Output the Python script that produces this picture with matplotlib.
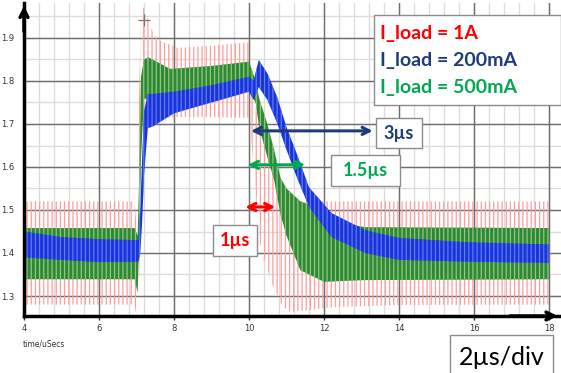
import matplotlib.pyplot as plt
from matplotlib.patches import Rectangle

# envelopes of the three ripple waveforms (time in us, volts)
t_red = [4.0, 6.95, 7.0, 7.05, 7.12, 7.2, 7.45, 7.6, 8.1, 9.0, 10.0, 10.1, 10.3, 10.6, 10.9, 11.1, 11.6, 12.2, 14.0, 18.0]
red_hi = [1.52, 1.52, 1.46, 1.69, 1.97, 1.97, 1.91, 1.895, 1.877, 1.882, 1.89, 1.76, 1.70, 1.60, 1.53, 1.52, 1.52, 1.52, 1.52, 1.52]
red_lo = [1.28, 1.28, 1.253, 1.253, 1.55, 1.70, 1.71, 1.714, 1.716, 1.716, 1.714, 1.62, 1.42, 1.33, 1.275, 1.263, 1.267, 1.274, 1.279, 1.28]

t_green = [4.0, 6.95, 7.03, 7.08, 7.12, 7.2, 7.32, 7.9, 9.0, 10.0, 10.18, 10.27, 10.49, 10.67, 10.84, 11.0, 11.37, 12.0, 12.5, 13.1, 18.0]
green_hi = [1.458, 1.458, 1.44, 1.60, 1.81, 1.85, 1.855, 1.828, 1.835, 1.845, 1.80, 1.76, 1.70, 1.64, 1.575, 1.55, 1.52, 1.50, 1.47, 1.46, 1.458]
green_lo = [1.339, 1.339, 1.307, 1.45, 1.62, 1.76, 1.755, 1.755, 1.765, 1.78, 1.748, 1.693, 1.623, 1.57, 1.49, 1.44, 1.36, 1.333, 1.335, 1.337, 1.339]

t_blue = [4.0, 5.0, 6.0, 7.05, 7.1, 7.15, 7.2, 7.3, 7.45, 8.0, 9.0, 10.0, 10.12, 10.26, 10.49, 10.75, 11.0, 11.27, 11.6, 12.2, 13.1, 14.0, 15.8, 18.0]
blue_hi = [1.45, 1.437, 1.432, 1.43, 1.50, 1.62, 1.73, 1.77, 1.77, 1.775, 1.79, 1.81, 1.80, 1.849, 1.818, 1.763, 1.693, 1.632, 1.553, 1.493, 1.453, 1.435, 1.425, 1.42]
blue_lo = [1.39, 1.384, 1.379, 1.38, 1.40, 1.47, 1.58, 1.69, 1.695, 1.725, 1.75, 1.775, 1.756, 1.786, 1.756, 1.702, 1.64, 1.577, 1.507, 1.437, 1.40, 1.384, 1.38, 1.377]

x_ticks = [4, 6, 8, 10, 12, 14, 16, 18]
y_ticks = [1.3, 1.4, 1.5, 1.6, 1.7, 1.8, 1.9]
legend_lines = ["I_load = 1A", "I_load = 200mA", "I_load = 500mA"]
legend_colors = ["#ff0000", "#1f3c7a", "#00a94f"]

plt.rcParams["hatch.linewidth"] = 0.9

fig = plt.figure(figsize=(5.61, 3.73), dpi=100)
W, H = 561, 373
ax = fig.add_axes([24 / W, (H - 316) / H, (W - 24) / W, (316 - 3) / H])
ax.set_xlim(4, 4 + (W - 24) / 37.5)
ax.set_ylim(1.9 - (316 - 38) / 430, 1.9 + 35 / 430)

# grid
for x in [4 + 0.4 * i for i in range(37)]:
    ax.axvline(x, color="#dcdcdc", lw=1, zorder=0)
for y in [1.25 + 0.05 * i for i in range(16)]:
    ax.axhline(y, color="#dcdcdc", lw=1, zorder=0)
for x in x_ticks:
    ax.axvline(x, color="#6e6e6e", lw=1, zorder=0.5)
for y in y_ticks:
    ax.axhline(y, color="#6e6e6e", lw=1, zorder=0.5)


def band(t, lo, hi, face, stripe, z):
    # ripple drawn as vertical hatch inside the envelope
    return ax.fill_between(t, lo, hi, facecolor=face, edgecolor=stripe,
                           hatch="||||", linewidth=0, zorder=z)


band(t_red, red_lo, red_hi, "none", "#ff9c9c", 1)
band(t_green, green_lo, green_hi, "#2f8a2f", "#8fc68f", 2)
band(t_blue, blue_lo, blue_hi, "#1a33dc", "#5f7cf2", 3)

# cursor cross
ax.plot([7.19], [1.942], marker="+", ms=9, mew=0.9, color="#777777", zorder=4)

# axes styling
for s in ["top", "right"]:
    ax.spines[s].set_visible(False)
for s in ["left", "bottom"]:
    ax.spines[s].set_linewidth(2.5)
    ax.spines[s].set_zorder(6)
ax.set_xticks(x_ticks)
ax.set_yticks(y_ticks)
ax.set_xticklabels([str(v) for v in x_ticks])
ax.set_yticklabels([f"{v:.1f}" for v in y_ticks])
ax.tick_params(axis="x", length=3, width=1, labelsize=6, colors="#333333", pad=3)
ax.tick_params(axis="y", length=0, labelsize=6, colors="#333333", pad=7)
ax.annotate("", xy=(0, 1.0), xytext=(0, 0.9), xycoords="axes fraction",
            arrowprops=dict(arrowstyle="->", lw=2.5, color="black", mutation_scale=14))
ax.annotate("", xy=(0.999, 0), xytext=(0.9, 0), xycoords="axes fraction",
            arrowprops=dict(arrowstyle="->", lw=2.5, color="black", mutation_scale=14))
fig.text(23 / W, 1 - 344 / H, "time/uSecs", fontsize=5.5, color="#333333", va="center")

# legend box
font = "Lato"
fig.patches.append(Rectangle((374 / W, 1 - 105 / H), (W - 374) / W, 90 / H,
                             transform=fig.transFigure, facecolor="white",
                             edgecolor="#8c8c8c", lw=1, zorder=10))
for i, (txt, col) in enumerate(zip(legend_lines, legend_colors)):
    fig.text(380 / W, 1 - (33 + 27.5 * i) / H, txt, color=col, fontsize=14,
             fontweight="bold", family=font, va="center", zorder=11)


def label_box(x0, y0, x1, y1, txt, col, size=13, weight="bold"):
    fig.patches.append(Rectangle((x0 / W, 1 - y1 / H), (x1 - x0) / W, (y1 - y0) / H,
                                 transform=fig.transFigure, facecolor="white",
                                 edgecolor="#8c8c8c", lw=1, zorder=10))
    fig.text((x0 + x1) / 2 / W, 1 - (y0 + y1) / 2 / H, txt, color=col, fontsize=size,
             fontweight=weight, family=font, ha="center", va="center", zorder=11)


def span_arrow(x0, x1, y, col):
    ax.annotate("", xy=(x1, y), xytext=(x0, y), xycoords="data",
                arrowprops=dict(arrowstyle="<->", lw=2.2, color=col,
                                mutation_scale=13, shrinkA=0, shrinkB=0), zorder=8)


span_arrow(10.05, 13.3, 1.684, "#1f3c7a")
span_arrow(9.97, 11.5, 1.605, "#00a94f")
span_arrow(9.9, 10.7, 1.507, "#ff0000")
label_box(376, 118, 422, 148, "3µs", "#1f3c7a")
label_box(331, 155, 400, 186, "1.5µs", "#00a94f")
label_box(213, 225, 257, 256, "1µs", "#ff0000")
label_box(450, 335, 553, 380, "2µs/div", "black", size=18, weight="normal")

fig.savefig("out.png", dpi=100)
